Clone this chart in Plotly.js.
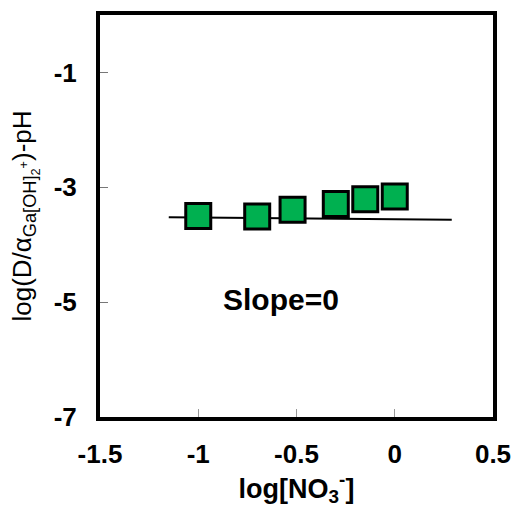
<!DOCTYPE html>
<html>
<head>
<meta charset="utf-8">
<script src="https://cdn.plot.ly/plotly-3.0.1.min.js"></script>
<style>html,body{margin:0;padding:0;background:#fff;}#chart{width:515px;height:509px;}</style>
</head>
<body>
<div id="chart"></div>
<script>
const logNO3 = [-1.0, -0.70, -0.52, -0.30, -0.15, 0.0];
const logD = [-3.50, -3.51, -3.39, -3.29, -3.21, -3.16];
const fitX = [-1.15, 0.29];
const fitY = [-3.52, -3.565];
const xTicks = [-1.5, -1, -0.5, 0, 0.5];
const yTicks = [-7, -5, -3, -1];
const annotationText = 'Slope=0';

const font = {family: 'Arial, "Liberation Sans", sans-serif', color: '#000'};

const traces = [
  {x: fitX, y: fitY, mode: 'lines', line: {color: '#000', width: 2}, hoverinfo: 'skip', showlegend: false},
  {x: logNO3, y: logD, mode: 'markers', showlegend: false,
   marker: {symbol: 'square', size: 25, color: '#00b050', line: {color: '#000', width: 3}}}
];

const layout = {
  width: 515, height: 509,
  margin: {l: 100, r: 22, t: 15, b: 92},
  paper_bgcolor: '#fff', plot_bgcolor: '#fff',
  showlegend: false,
  xaxis: {
    range: [-1.5, 0.5], tickvals: xTicks, ticktext: xTicks.map(String),
    ticks: 'inside', ticklen: 8, tickcolor: '#999', tickwidth: 1,
    showgrid: false, zeroline: false,
    showline: true, linecolor: '#000', linewidth: 4, mirror: true,
    ticklabelstandoff: 11,
    tickfont: Object.assign({}, font, {size: 26, weight: 'bold'}),
    title: {text: 'log[NO<sub>3</sub><sup>-</sup>]', font: Object.assign({}, font, {size: 27, weight: 'bold'}), standoff: 6}
  },
  yaxis: {
    range: [-7, 0], tickvals: yTicks, ticktext: yTicks.map(String),
    ticks: 'inside', ticklen: 8, tickcolor: '#777', tickwidth: 1,
    showgrid: false, zeroline: false,
    showline: true, linecolor: '#000', linewidth: 4, mirror: true,
    ticklabelstandoff: 14,
    tickfont: Object.assign({}, font, {size: 26, weight: 'bold'}),
    title: {text: 'log(D/α<sub>Ga[OH]<sub>2</sub><sup>+</sup></sub>)-pH', font: Object.assign({}, font, {size: 26}), standoff: 16}
  },
  annotations: [{
    x: -0.58, y: -4.95, xref: 'x', yref: 'y', text: annotationText, showarrow: false,
    font: Object.assign({}, font, {size: 30, weight: 'bold'})
  }]
};

Plotly.newPlot('chart', traces, layout, {displayModeBar: false, staticPlot: true});
</script>
</body>
</html>
